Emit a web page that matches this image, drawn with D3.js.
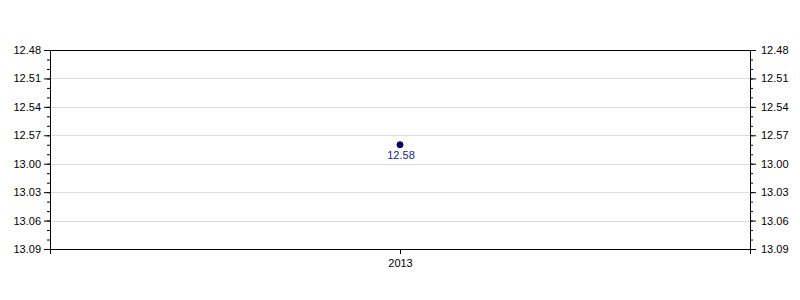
<!DOCTYPE html>
<html>
<head>
<meta charset="utf-8">
<script src="https://cdn.jsdelivr.net/npm/d3@7"></script>
<style>
  body { margin: 0; background: #fff; }
  svg text { font-family: "Liberation Sans", Arial, sans-serif; font-size: 11px; }
</style>
</head>
<body>
<div id="chart"></div>
<script>
// chart data
var years = ["2013"];
var times = ["12:58"];
var timeDomain = ["12:48", "13:09"];

var svgWidth = 800;
var svgHeight = 300;

var margin = { top: 50, right: 50, bottom: 51, left: 50 };
var chartWidth = svgWidth - margin.left - margin.right;
var chartHeight = svgHeight - margin.top - margin.bottom;

var parseTime = d3.timeParse("%H:%M");
var fmt = d3.timeFormat("%H.%M");

var svg = d3.select("#chart")
  .append("svg")
  .attr("width", svgWidth)
  .attr("height", svgHeight);

var g = svg.append("g")
  .attr("transform", `translate(${margin.left}, ${margin.top})`);

var xScale = d3.scalePoint()
  .domain(years)
  .range([0, chartWidth])
  .padding(0.5);

var yScale = d3.scaleTime()
  .domain(timeDomain.map(parseTime))
  .range([0, chartHeight]);

var majorTicks = yScale.ticks(d3.timeMinute.every(3));
var minorTicks = yScale.ticks(d3.timeMinute.every(1));

// gridlines
g.append("g")
  .selectAll("line")
  .data(majorTicks)
  .enter()
  .append("line")
  .attr("x1", 0)
  .attr("x2", chartWidth)
  .attr("y1", d => Math.round(yScale(d)) + 0.5)
  .attr("y2", d => Math.round(yScale(d)) + 0.5)
  .style("stroke", "#dcdcdc")
  .style("stroke-width", 1);

// top border
g.append("line")
  .attr("x1", 0).attr("x2", chartWidth)
  .attr("y1", 0.5).attr("y2", 0.5)
  .style("stroke", "#000");

// minor ticks, left and right
var minorLeft = d3.axisLeft(yScale).tickValues(minorTicks).tickSize(3).tickFormat("");
var minorRight = d3.axisRight(yScale).tickValues(minorTicks).tickSize(3).tickFormat("");

g.append("g").attr("class", "axis").call(minorLeft);
g.append("g").attr("class", "axis")
  .attr("transform", `translate(${chartWidth}, 0)`)
  .call(minorRight);

// major axes
var leftAxis = d3.axisLeft(yScale).tickValues(majorTicks).tickSize(6).tickPadding(3).tickFormat(fmt);
var rightAxis = d3.axisRight(yScale).tickValues(majorTicks).tickSize(6).tickPadding(5).tickFormat(fmt);

g.append("g").attr("class", "axis").call(leftAxis);
g.append("g").attr("class", "axis")
  .attr("transform", `translate(${chartWidth}, 0)`)
  .call(rightAxis);

var bottomAxis = d3.axisBottom(xScale).tickSize(5).tickPadding(5);
g.append("g").attr("class", "axis")
  .attr("transform", `translate(0, ${chartHeight})`)
  .call(bottomAxis);

svg.selectAll(".axis path").style("stroke", "#000");
svg.selectAll(".axis line").style("stroke", "#000");
svg.selectAll(".axis text").style("fill", "#000").style("font-size", "11px")
  .style("font-family", "'Liberation Sans', Arial, sans-serif");
svg.selectAll(".axis .domain").attr("d", function() {
  return d3.select(this).attr("d").replace(/[hv]-?6|[HV]-?6/g, "");
});

// points
var points = years.map((y, i) => ({ year: y, time: parseTime(times[i]) }));

g.append("g")
  .selectAll("circle")
  .data(points)
  .enter()
  .append("circle")
  .attr("cx", d => xScale(d.year))
  .attr("cy", d => yScale(d.time))
  .attr("r", 3)
  .style("fill", "#00008b")
  .style("stroke", "#000033")
  .style("stroke-width", 1);

g.append("g")
  .selectAll("text")
  .data(points)
  .enter()
  .append("text")
  .attr("x", d => xScale(d.year) + 1)
  .attr("y", d => yScale(d.time) + 14)
  .attr("text-anchor", "middle")
  .style("fill", "#1a1aa0")
  .text(d => fmt(d.time));
</script>
</body>
</html>
